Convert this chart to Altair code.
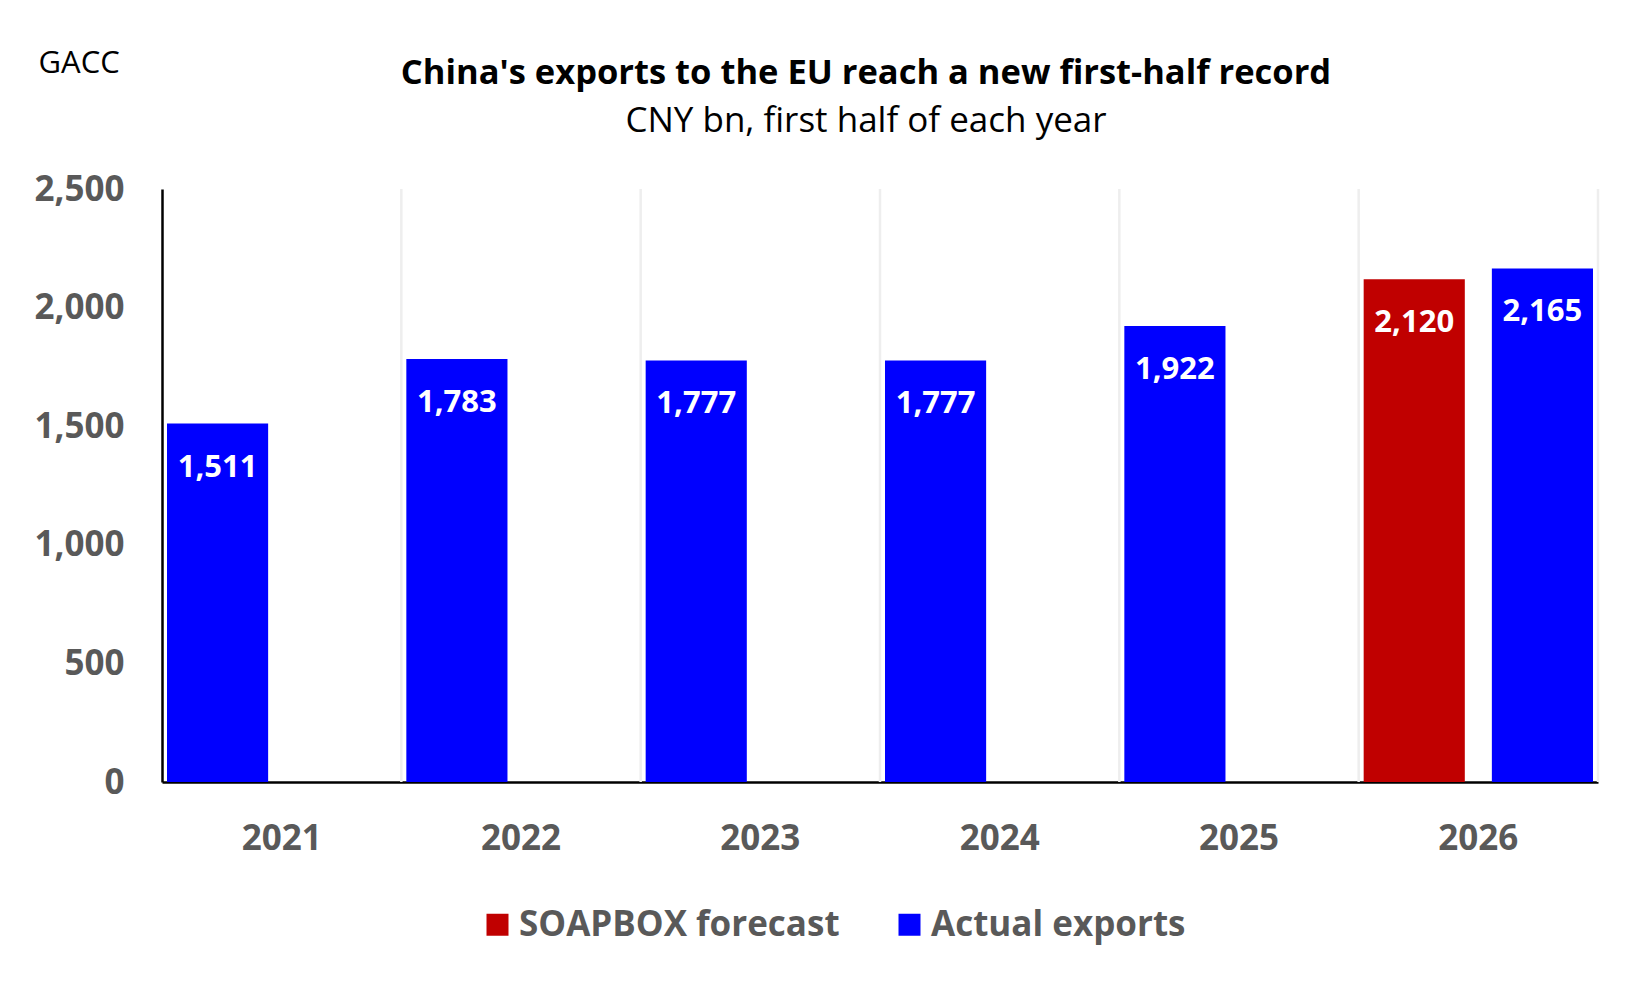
import altair as alt
import pandas as pd

years = ["2021", "2022", "2023", "2024", "2025", "2026"]
bar_year = ["2021", "2022", "2023", "2024", "2025", "2026", "2026"]
bar_slot = ["a", "a", "a", "a", "a", "a", "b"]
bar_series = ["Actual exports"] * 5 + ["SOAPBOX forecast", "Actual exports"]
bar_value = [1511, 1783, 1777, 1777, 1922, 2120, 2165]

series_order = ["SOAPBOX forecast", "Actual exports"]
series_colors = ["#C00000", "#0000FF"]
y_ticks = [0, 500, 1000, 1500, 2000, 2500]

bars_df = pd.DataFrame({"year": bar_year, "slot": bar_slot,
                        "series": bar_series, "value": bar_value})
grid_df = pd.DataFrame({"year": years})

FONT = "Open Sans"
GREY = "#595959"

x_axis = alt.Axis(title=None, labelAngle=0, ticks=False, bandPosition=0.5,
                  labelFontSize=35, labelFontWeight="bold",
                  labelColor=GREY, labelFont=FONT, labelPadding=39,
                  domainColor="black", domainWidth=2.5, grid=False)
y_axis = alt.Axis(values=y_ticks, format=",.0f",
                  grid=False, ticks=False,
                  labelFontSize=35, labelFontWeight="bold",
                  labelColor=GREY, labelFont=FONT, labelPadding=38,
                  domainColor="black", domainWidth=2.5,
                  title="GACC", titleAngle=0, titleAlign="left",
                  titleBaseline="middle", titleX=-124, titleY=-126,
                  titleFontSize=31, titleFontWeight="normal",
                  titleColor="black", titleFont=FONT)
x_scale = alt.Scale(paddingInner=0, paddingOuter=0)
y_scale = alt.Scale(domain=[0, 2500], nice=False)
xoff = alt.XOffset("slot:N", scale=alt.Scale(paddingInner=0.211, paddingOuter=0.039))

grid = alt.Chart(grid_df).mark_rule(color="#EEEEEE", strokeWidth=2.5).encode(
    x=alt.X("year:N", sort=years, bandPosition=1, scale=x_scale, axis=x_axis),
    y=alt.Y(datum=0, type="quantitative", scale=y_scale, axis=y_axis),
    y2=alt.Y2(datum=2500),
)

bars = alt.Chart(bars_df).mark_bar().encode(
    x=alt.X("year:N", sort=years, scale=x_scale, axis=x_axis),
    xOffset=xoff,
    y=alt.Y("value:Q", scale=y_scale, axis=y_axis),
    color=alt.Color("series:N",
                    scale=alt.Scale(domain=series_order, range=series_colors),
                    legend=alt.Legend(title=None, orient="none", direction="horizontal",
                                      legendX=318, legendY=718,
                                      symbolType="square", symbolSize=484,
                                      symbolStrokeWidth=0, symbolOpacity=1,
                                      labelFontSize=35, labelFontWeight="bold",
                                      labelColor=GREY, labelFont=FONT,
                                      labelOffset=4, columnPadding=52,
                                      labelLimit=500)),
)

labels = alt.Chart(bars_df).mark_text(color="white", fontSize=31, fontWeight="bold",
                                      font=FONT, baseline="middle", dy=44).encode(
    x=alt.X("year:N", sort=years, scale=x_scale, axis=x_axis),
    xOffset=xoff,
    y=alt.Y("value:Q", scale=y_scale, axis=y_axis),
    text=alt.Text("value:Q", format=","),
)

chart = alt.layer(grid, bars, labels).properties(
    width=1436, height=593,
    autosize=alt.AutoSizeParams(type="none"),
    padding={"left": 154, "top": 181, "right": 40, "bottom": 190},
    background="white",
    title=alt.TitleParams(
        text="China's exports to the EU reach a new first-half record",
        subtitle="CNY bn, first half of each year",
        anchor="middle", dx=-14, offset=0, dy=93,
        font=FONT, fontSize=34.5, fontWeight="bold", color="black",
        subtitleFont=FONT, subtitleFontSize=35, subtitleColor="black",
        subtitlePadding=13,
    ),
).configure_view(stroke=None)

chart.save("out.html", embed_options={"renderer": "svg", "actions": False})
